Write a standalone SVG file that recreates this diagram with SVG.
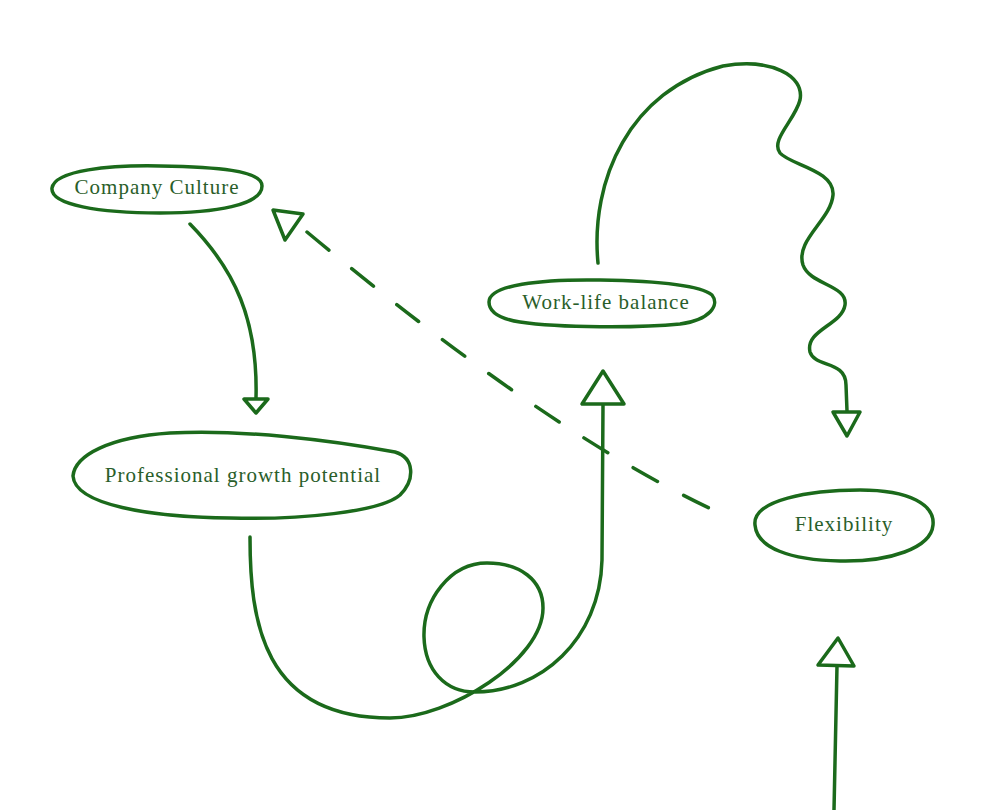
<svg xmlns="http://www.w3.org/2000/svg" width="1006" height="810" viewBox="0 0 1006 810">
  <style>
    .shape { fill: #ffffff; stroke: #1b6a1b; stroke-width: 3.5; stroke-linejoin: round; }
    .label { font-family: "Liberation Serif", "Times New Roman", serif; font-size: 21px; letter-spacing: 1px; fill: #2a5e2a; text-anchor: middle; }
    .edge { fill: none; stroke: #1b6a1b; stroke-width: 3.5; stroke-linecap: round; stroke-linejoin: round; }
    .head { fill: #ffffff; stroke: #1b6a1b; stroke-width: 3.5; stroke-linejoin: round; }
  </style>
  <rect width="1006" height="810" fill="#ffffff"/>

  <g id="connectors">
    <!-- Company Culture -> Professional growth potential -->
    <path class="edge" d="M190,224 C235,270 258,320 256,398"/>
    <polygon class="head" points="244,399 268,399 256,413"/>

    <!-- Flexibility -> Company Culture (dashed) -->
    <path class="edge" d="M307,232 Q542,428 709,508" stroke-dasharray="28 29.5"/>
    <polygon class="head" points="273,210 303,214 285,240"/>

    <!-- Professional growth potential -> Work-life balance (loop) -->
    <path class="edge" d="M250,537 C250,620 262,718 390,718 C450,718 543,660 543,608 C543,580 520,563 487,563 C450,563 423,600 424,637 C425,670 445,692 475,692 C540,692 600,640 602,560 L603,405" stroke-width="3.8"/>
    <polygon class="head" points="603,371 582,404 624,404"/>

    <!-- Work-life balance -> Flexibility (squiggle) -->
    <path class="edge" d="M598,263 C590,180 630,90 723,66 C770,58 805,75 800,100 C795,120 770,140 780,153 C790,165 835,170 833,195 C831,220 795,240 803,265 C810,285 848,285 845,305 C842,325 805,330 810,352 C815,368 846,360 846,385 L847,411"/>
    <polygon class="head" points="833,412 860,412 847,436"/>

    <!-- bottom incoming -> Flexibility -->
    <path class="edge" d="M834,810 L837,666" stroke-width="5"/>
    <polygon class="head" points="838,638 818,665 854,666"/>
  </g>

  <g id="node-company-culture">
    <path class="shape" d="M52,188 C55,170 110,165 160,166 C215,167 262,170 262,186 C262,205 215,213 160,213 C100,213 50,205 52,188 Z"/>
    <text class="label" x="157" y="194">Company Culture</text>
  </g>

  <g id="node-work-life-balance">
    <path class="shape" d="M489,302 C489,285 540,279 600,280 C660,281 700,285 712,295 C720,305 710,320 680,324 C640,328 560,328 520,322 C495,318 489,310 489,302 Z"/>
    <text class="label" x="606" y="309">Work-life balance</text>
  </g>

  <g id="node-professional-growth">
    <path class="shape" d="M73,476 C75,455 110,437 170,433 C240,429 330,440 395,452 C415,458 415,480 400,495 C380,512 300,520 230,518 C150,517 75,505 73,476 Z"/>
    <text class="label" x="243" y="482">Professional growth potential</text>
  </g>

  <g id="node-flexibility">
    <path class="shape" d="M755,525 C752,500 810,490 860,490 C910,490 935,505 933,525 C931,548 890,562 840,561 C790,560 757,548 755,525 Z"/>
    <text class="label" x="844" y="531">Flexibility</text>
  </g>
</svg>
